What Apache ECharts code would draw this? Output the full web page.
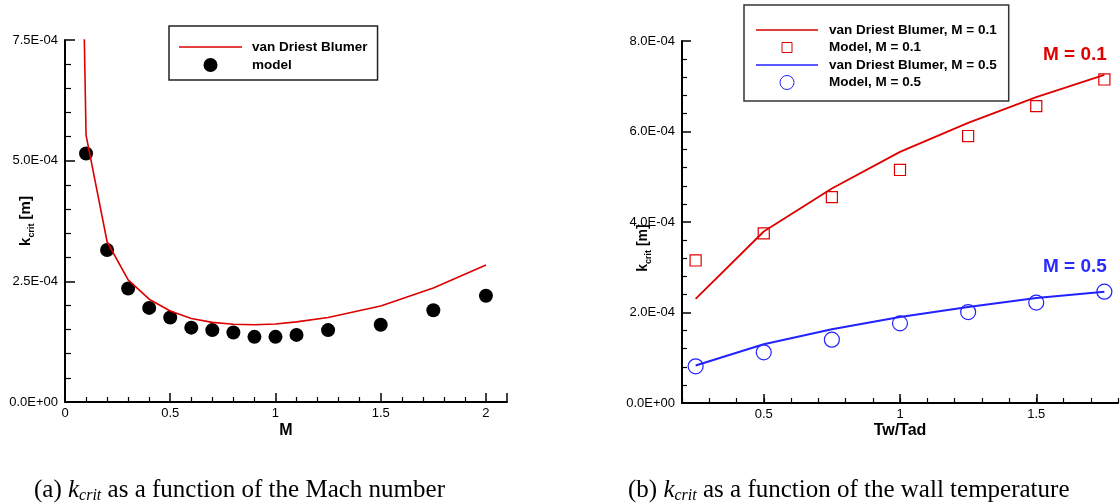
<!DOCTYPE html>
<html><head><meta charset="utf-8">
<script src="https://cdn.jsdelivr.net/npm/echarts@6/dist/echarts.min.js"></script>
<style>html,body{margin:0;padding:0;background:#fff}#c{width:1120px;height:504px}</style>
</head><body><div id="c"></div>
<script>
// ---- data (a): k_crit vs Mach number ----
const machVDB   = [0.05, 0.1, 0.2, 0.3, 0.4, 0.5, 0.6, 0.7, 0.8, 0.9, 1.0, 1.1, 1.25, 1.5, 1.75, 2.0];
const kcritVDB  = [1.77e-3, 5.53e-4, 3.32e-4, 2.53e-4, 2.13e-4, 1.885e-4, 1.73e-4, 1.65e-4, 1.61e-4, 1.60e-4, 1.615e-4, 1.66e-4, 1.75e-4, 1.99e-4, 2.36e-4, 2.84e-4];
const machModel = [0.1, 0.2, 0.3, 0.4, 0.5, 0.6, 0.7, 0.8, 0.9, 1.0, 1.1, 1.25, 1.5, 1.75, 2.0];
const kcritModel= [5.15e-4, 3.15e-4, 2.35e-4, 1.95e-4, 1.75e-4, 1.54e-4, 1.49e-4, 1.44e-4, 1.35e-4, 1.35e-4, 1.39e-4, 1.49e-4, 1.60e-4, 1.90e-4, 2.20e-4];
// ---- data (b): k_crit vs Tw/Tad ----
const twTad    = [0.25, 0.5, 0.75, 1.0, 1.25, 1.5, 1.75];
const vdbM01   = [2.30e-4, 3.79e-4, 4.74e-4, 5.55e-4, 6.19e-4, 6.76e-4, 7.25e-4];
const modelM01 = [3.15e-4, 3.75e-4, 4.55e-4, 5.15e-4, 5.90e-4, 6.56e-4, 7.15e-4];
const vdbM05   = [0.83e-4, 1.30e-4, 1.63e-4, 1.90e-4, 2.12e-4, 2.32e-4, 2.46e-4];
const modelM05 = [0.81e-4, 1.12e-4, 1.40e-4, 1.76e-4, 2.01e-4, 2.22e-4, 2.46e-4];
const twTadMajorTicks = [0.5, 1, 1.5];
const captionA = ['(a) ', 'k', 'crit', ' as a function of the Mach number'];
const captionB = ['(b) ', 'k', 'crit', ' as a function of the wall temperature'];

const zip = (xs, ys) => xs.map((x, i) => [x, ys[i]]);
const SANS = '"Liberation Sans", Arial, sans-serif';
const SERIF = '"Liberation Serif", "Times New Roman", serif';
const RED = '#dd0000', BLUE = '#2222ff';
const LINE_ICON = 'path://M0,0L100,0L100,2.6L0,2.6Z';
const SQUARE = 'path://M-2,-2M0,0L10,0L10,10L0,10ZM12,12';

function sci(v) {
  if (Math.abs(v) < 1e-15) return '0.0E+00';
  let e = Math.floor(Math.log10(Math.abs(v)) + 1e-9);
  let m = v / Math.pow(10, e);
  if (Math.round(m * 10) >= 100) { e += 1; m = v / Math.pow(10, e); }
  return m.toFixed(1) + 'E' + (e < 0 ? '-' : '+') + String(Math.abs(e)).padStart(2, '0');
}

const axisLine = { show: true, onZero: false, lineStyle: { color: '#000', width: 2 } };
const labelStyle = { color: '#000', fontSize: 13, fontFamily: SANS };
const kRich = {
  k: { fontSize: 15, fontWeight: 'bold', fontFamily: SANS, color: '#000', lineHeight: 20, verticalAlign: 'middle' },
  s: { fontSize: 9, fontWeight: 'bold', fontFamily: SANS, color: '#000', lineHeight: 9, verticalAlign: 'bottom' }
};
const capRich = {
  n: { fontSize: 25, fontFamily: SERIF, color: '#000', lineHeight: 28, verticalAlign: 'middle' },
  k: { fontSize: 25, fontFamily: SERIF, fontStyle: 'italic', color: '#000', lineHeight: 28, verticalAlign: 'middle' },
  s: { fontSize: 16, fontFamily: SERIF, fontStyle: 'italic', color: '#000', lineHeight: 14, verticalAlign: 'bottom' }
};
const capText = c => `{n|${c[0]}}{k|${c[1]}}{s|${c[2]}}{n|${c[3]}}`;

const option = {
  backgroundColor: '#fff',
  animation: false,
  grid: [
    { left: 65, top: 40, right: 613, bottom: 102, outerBoundsMode: 'none', containLabel: false },
    { left: 682, top: 41, right: 2, bottom: 101, outerBoundsMode: 'none', containLabel: false }
  ],
  xAxis: [
    { gridIndex: 0, type: 'value', min: 0, max: 2.1, interval: 0.5, position: 'bottom',
      axisLine, splitLine: { show: false },
      axisTick: { show: true, inside: true, length: 9, lineStyle: { color: '#000', width: 1.5 } },
      minorTick: { show: true, splitNumber: 5, length: 5, lineStyle: { color: '#000', width: 1.2 } },
      axisLabel: { ...labelStyle, margin: 5, showMaxLabel: false, formatter: v => String(Math.round(v * 10) / 10) },
      name: 'M', nameLocation: 'middle', nameGap: 21, nameMoveOverlap: false,
      nameTextStyle: { fontSize: 16, fontWeight: 'bold', fontFamily: SANS, color: '#000' } },
    { gridIndex: 1, type: 'value', min: 0.2, max: 1.8, interval: 0.1, position: 'bottom',
      axisLine, splitLine: { show: false },
      axisTick: { show: true, inside: true, length: 5, lineStyle: { color: '#000', width: 1.2 } },
      axisLabel: { ...labelStyle, margin: 5, showMinLabel: true, showMaxLabel: true,
        formatter: v => { const r = Math.round(v * 10) / 10; return Math.abs(r * 2 - Math.round(r * 2)) < 1e-6 && r > 0.2 && r < 1.8 ? String(r) : ''; } },
      name: 'Tw/Tad', nameLocation: 'middle', nameGap: 20, nameMoveOverlap: false,
      nameTextStyle: { fontSize: 16, fontWeight: 'bold', fontFamily: SANS, color: '#000' } },
    { gridIndex: 1, type: 'value', min: 0.2, max: 1.8, position: 'bottom',
      axisLine: { show: false }, splitLine: { show: false }, axisLabel: { show: false },
      axisTick: { show: true, inside: true, length: 9, customValues: twTadMajorTicks, lineStyle: { color: '#000', width: 1.5 } } }
  ],
  yAxis: [
    { gridIndex: 0, type: 'value', min: 0, max: 7.5e-4, interval: 2.5e-4,
      axisLine, splitLine: { show: false },
      axisTick: { show: true, inside: true, length: 10, lineStyle: { color: '#000', width: 1.5 } },
      minorTick: { show: true, splitNumber: 5, length: 6, lineStyle: { color: '#000', width: 1.2 } },
      axisLabel: { ...labelStyle, margin: 7, formatter: sci },
      name: '{k|k}{s|crit}{k| [m]}', nameLocation: 'middle', nameGap: 29, nameMoveOverlap: false,
      nameTextStyle: { rich: kRich } },
    { gridIndex: 1, type: 'value', min: 0, max: 8e-4, interval: 2e-4,
      axisLine, splitLine: { show: false },
      axisTick: { show: true, inside: true, length: 9, lineStyle: { color: '#000', width: 1.5 } },
      minorTick: { show: true, splitNumber: 5, length: 5, lineStyle: { color: '#000', width: 1.2 } },
      axisLabel: { ...labelStyle, margin: 7, formatter: sci } }
  ],
  legend: [
    { left: 169, top: 26, orient: 'vertical', selectedMode: false,
      data: [{ name: 'van Driest Blumer', icon: LINE_ICON }, { name: 'model' }],
      itemWidth: 63, itemHeight: 14, itemGap: 4, padding: [14, 10, 8, 10],
      borderColor: '#222', borderWidth: 1.5, backgroundColor: '#fff',
      textStyle: { fontFamily: SANS, fontWeight: 'bold', fontSize: 13.5, color: '#000', padding: [0, 0, 0, 5] } },
    { left: 744, top: 5, orient: 'vertical', selectedMode: false,
      data: [{ name: 'van Driest Blumer, M = 0.1', icon: LINE_ICON }, { name: 'Model, M = 0.1', itemStyle: { borderWidth: 1 } },
             { name: 'van Driest Blumer, M = 0.5', icon: LINE_ICON }, { name: 'Model, M = 0.5', itemStyle: { borderWidth: 1 } }],
      itemWidth: 62, itemHeight: 14, itemGap: 3, padding: [18, 12, 11, 12],
      borderColor: '#333', borderWidth: 1.5, backgroundColor: '#fff',
      textStyle: { fontFamily: SANS, fontWeight: 'bold', fontSize: 13.5, color: '#000', padding: [0, 0, 0, 6] } }
  ],
  series: [
    { name: 'van Driest Blumer', type: 'line', xAxisIndex: 0, yAxisIndex: 0, clip: true,
      data: zip(machVDB, kcritVDB), symbol: 'none', lineStyle: { color: RED, width: 1.6 }, itemStyle: { color: RED } },
    { name: 'model', type: 'scatter', xAxisIndex: 0, yAxisIndex: 0,
      data: zip(machModel, kcritModel), symbol: 'circle', symbolSize: 14, itemStyle: { color: '#000', opacity: 1 } },
    { name: 'van Driest Blumer, M = 0.1', type: 'line', xAxisIndex: 1, yAxisIndex: 1,
      data: zip(twTad, vdbM01), symbol: 'none', lineStyle: { color: RED, width: 1.8 }, itemStyle: { color: RED } },
    { name: 'Model, M = 0.1', type: 'scatter', xAxisIndex: 1, yAxisIndex: 1,
      data: zip(twTad, modelM01), symbol: SQUARE, symbolSize: 15.5,
      itemStyle: { color: 'rgba(0,0,0,0)', borderColor: RED, borderWidth: 1.2, opacity: 1 } },
    { name: 'van Driest Blumer, M = 0.5', type: 'line', xAxisIndex: 1, yAxisIndex: 1,
      data: zip(twTad, vdbM05), symbol: 'none', lineStyle: { color: BLUE, width: 2 }, itemStyle: { color: BLUE } },
    { name: 'Model, M = 0.5', type: 'scatter', xAxisIndex: 1, yAxisIndex: 1,
      data: zip(twTad, modelM05), symbol: 'circle', symbolSize: 15,
      itemStyle: { color: 'rgba(0,0,0,0)', borderColor: BLUE, borderWidth: 1.2, opacity: 1 } }
  ],
  graphic: [
    { type: 'text', x: 643, y: 248, rotation: Math.PI / 2,
      style: { text: '{k|k}{s|crit}{k| [m]}', rich: { k: { ...kRich.k, fontSize: 14 }, s: kRich.s }, align: 'center', verticalAlign: 'middle' } },
    { type: 'text', x: 1043, y: 55,
      style: { text: 'M = 0.1', fill: '#e00000', font: 'bold 19px ' + SANS, align: 'left', verticalAlign: 'middle' } },
    { type: 'text', x: 1043, y: 267,
      style: { text: 'M = 0.5', fill: '#2a2aff', font: 'bold 19px ' + SANS, align: 'left', verticalAlign: 'middle' } },
    { type: 'text', x: 34, y: 490,
      style: { text: capText(captionA), rich: capRich, align: 'left', verticalAlign: 'middle' } },
    { type: 'text', x: 628, y: 490,
      style: { text: capText(captionB), rich: capRich, align: 'left', verticalAlign: 'middle' } }
  ]
};
const chart = echarts.init(document.getElementById('c'), null, { renderer: 'canvas' });
chart.setOption(option);
</script>
</body></html>
